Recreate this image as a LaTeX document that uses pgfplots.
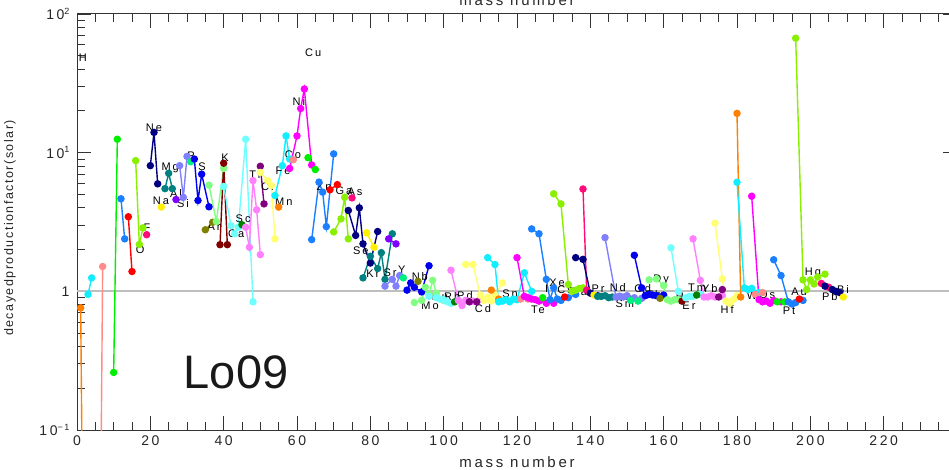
\documentclass[border=0pt]{standalone}
\usepackage{pgfplots}
\pgfplotsset{compat=1.18}
\usepackage{fontspec}
\setmainfont{Liberation Sans}
\newfontfamily\hf[LetterSpace=18]{Liberation Sans}
\newfontfamily\hfy[LetterSpace=12]{Liberation Sans}
\definecolor{cA}{HTML}{FF8000}
\definecolor{cB}{HTML}{10EEFF}
\definecolor{cC}{HTML}{FF8A8A}
\definecolor{cD}{HTML}{FF00FF}
\definecolor{cE}{HTML}{00EE00}
\definecolor{cF}{HTML}{1A80FF}
\definecolor{cG}{HTML}{FF0000}
\definecolor{cH}{HTML}{88F000}
\definecolor{cI}{HTML}{FF0A7A}
\definecolor{cJ}{HTML}{000080}
\definecolor{cK}{HTML}{FFF000}
\definecolor{cL}{HTML}{008080}
\definecolor{cM}{HTML}{8000FF}
\definecolor{cN}{HTML}{8080FF}
\definecolor{cO}{HTML}{00F080}
\definecolor{cP}{HTML}{0000F0}
\definecolor{cQ}{HTML}{808000}
\definecolor{cR}{HTML}{80FF80}
\definecolor{cS}{HTML}{800000}
\definecolor{cT}{HTML}{70FFFF}
\definecolor{cU}{HTML}{008000}
\definecolor{cV}{HTML}{FF80FF}
\definecolor{cW}{HTML}{800080}
\definecolor{cX}{HTML}{FFFF70}
\newcommand\up[1]{\raisebox{5.5pt}{\fontsize{9}{9}\selectfont #1}}
\tikzset{
 elem/.style={line width=1.4pt, mark=*, mark size=3pt, mark options={solid}},
 lab/.style={font=\hf\fontsize{11}{11}\selectfont, inner sep=0pt, text=black},
}
\begin{document}
\begin{tikzpicture}
\useasboundingbox (-77pt,-40pt) rectangle (872pt,430pt);
\begin{axis}[
 name=ax,
 at={(0,0)}, anchor=south west,
 width=880pt, height=416pt, scale only axis,
 xmin=0, xmax=240, ymode=log, ymin=0.1, ymax=100,
 xtick={0,20,...,240},
 xticklabels={0,20,40,60,80,100,120,140,160,180,200,220,{}},
 minor x tick num=3,
 ytick={0.1,1,10,100},
 yticklabels={10\up{−1},1,10\up{1},10\up{2}},
 /pgf/number format/assume math mode=true,
 ticklabel style={font=\hf\fontsize{14}{14}\selectfont, text=black!85},
 xticklabel style={yshift=-2pt},
 yticklabel style={xshift=-4pt},
 major tick length=14pt, minor tick length=8pt,
 axis line style={line width=1pt, black!80},
 every tick/.append style={black!80, line width=0.9pt},
 clip=true,
]
\addplot[no marks, color=black!25, line width=2pt] coordinates {(0,1)(240,1)};
% H .. Ar
\addplot[elem, cA] coordinates {(1,0.76)(2,0.001)};
\addplot[elem, cB] coordinates {(3,0.95)(4,1.25)};
\addplot[elem, cC] coordinates {(6,0.001)(7,1.51)};
\addplot[elem, cE] coordinates {(10,0.26)(11,12.5)};
\addplot[elem, cF] coordinates {(12,4.65)(13,2.39)};
\addplot[elem, cG] coordinates {(14,3.45)(15,1.39)};
\addplot[elem, cH] coordinates {(16,8.76)(17,2.18)(18,2.87)};
\addplot[elem, cI] coordinates {(19,2.56)};
\addplot[elem, cJ] coordinates {(20,8.06)(21,14.0)(22,5.96)};
\addplot[elem, cK] coordinates {(23,4.05)};
\addplot[elem, cL] coordinates {(24,5.5)(25,7.1)(26,5.5)};
\addplot[elem, cM] coordinates {(27,4.59)};
\addplot[elem, cN] coordinates {(28,8.06)(29,4.76)(30,9.4)};
\addplot[elem, cO] coordinates {(31,8.6)};
\addplot[elem, cP] coordinates {(32,9.0)(33,4.52)(34,7.0)(36,4.07)};
\addplot[elem, cQ] coordinates {(35,2.78)(37,3.15)};
\addplot[elem, cR] coordinates {(36,5.83)(38,3.19)(40,7.7)};
% K .. Zn
\addplot[elem, cS] coordinates {(39,2.17)(40,8.4)(41,2.17)};
\addplot[elem, cT] coordinates {(40,5.7)(42,2.98)(43,2.6)(44,2.9)(46,12.5)(48,0.84)};
\addplot[elem, cU] coordinates {(45,3.02)};
\addplot[elem, cV] coordinates {(46,2.9)(47,2.08)(48,6.29)(49,3.87)(50,1.84)};
\addplot[elem, cW] coordinates {(50,7.98)(51,4.27)};
\addplot[elem, cX] coordinates {(50,7.2)(52,6.29)(53,5.79)(54,2.39)};
\addplot[elem, cA] coordinates {(55,4.05)};
\addplot[elem, cB] coordinates {(54,4.91)(56,8.06)(57,13.2)(58,9.0)};
\addplot[elem, cC] coordinates {(59,8.9)};
\addplot[elem, cD] coordinates {(58,7.7)(60,13.2)(61,20.8)(62,28.8)(64,8.15)};
\addplot[elem, cE] coordinates {(63,9.2)(65,7.56)};
\addplot[elem, cF] coordinates {(64,2.36)(66,6.13)(67,5.19)(68,2.93)(70,9.8)};
\addplot[elem, cG] coordinates {(69,5.4)(71,5.88)};
\addplot[elem, cH] coordinates {(70,2.68)(72,3.33)(73,4.76)(74,2.39)};
\addplot[elem, cI] coordinates {(75,4.72)};
\addplot[elem, cJ] coordinates {(74,3.83)(76,2.53)(77,4.0)(78,2.2)(80,1.6)(82,2.7)};
\addplot[elem, cK] coordinates {(79,2.64)(81,2.08)};
\addplot[elem, cL] coordinates {(78,1.25)(80,1.79)(82,1.46)(83,1.9)(84,1.22)(86,2.6)};
\addplot[elem, cM] coordinates {(85,2.39)(87,2.2)};
\addplot[elem, cN] coordinates {(84,1.09)(86,1.22)(87,1.09)(88,1.30)};
\addplot[elem, cO] coordinates {(89,1.25)};
\addplot[elem, cP] coordinates {(90,1.02)(91,1.15)(92,1.07)(94,0.99)(96,1.53)};
\addplot[elem, cQ] coordinates {(93,1.18)};
\addplot[elem, cR] coordinates {(92,0.83)(94,0.86)(95,1.07)(96,0.95)(97,1.2)(98,0.97)(100,0.86)};
\addplot[elem, cT] coordinates {(96,0.92)(98,0.9)(99,0.88)(100,0.87)(101,0.84)(102,0.82)(104,0.86)};
\addplot[elem, cU] coordinates {(103,0.84)};
\addplot[elem, cV] coordinates {(102,1.42)(104,0.86)(105,0.79)(106,0.86)(108,0.85)(110,0.88)};
\addplot[elem, cW] coordinates {(107,0.84)(109,0.84)};
\addplot[elem, cX] coordinates {(106,1.56)(108,1.56)(110,0.94)(111,0.86)(112,0.91)(113,0.85)(114,0.94)(116,1.15)};
\addplot[elem, cA] coordinates {(113,1.02)(115,0.88)};
\addplot[elem, cB] coordinates {(112,1.75)(114,1.56)(115,0.84)(116,0.85)(117,0.87)(118,0.84)(119,0.88)(120,0.87)(122,1.36)(124,1.0)};
\addplot[elem, cC] coordinates {(121,0.88)(123,0.88)};
\addplot[elem, cD] coordinates {(120,1.75)(122,0.92)(123,0.9)(124,0.88)(125,0.87)(126,0.85)(128,0.82)(130,0.82)};
\addplot[elem, cE] coordinates {(127,0.9)};
\addplot[elem, cF] coordinates {(124,2.82)(126,2.6)(128,1.22)(129,0.87)(130,1.06)(131,0.88)(132,0.86)(134,0.9)(136,0.95)};
\addplot[elem, cG] coordinates {(133,0.91)};
\addplot[elem, cH] coordinates {(130,5.05)(132,4.27)(134,1.12)(135,1.0)(136,1.02)(137,1.05)(138,1.06)};
\addplot[elem, cI] coordinates {(138,5.47)(139,1.02)};
\addplot[elem, cJ] coordinates {(136,1.75)(138,1.70)(140,0.97)(142,0.93)};
\addplot[elem, cK] coordinates {(141,0.94)};
\addplot[elem, cL] coordinates {(142,0.92)(143,0.92)(144,0.93)(145,0.9)(146,0.91)(148,0.92)(150,0.92)};
\addplot[elem, cN] coordinates {(144,2.44)(147,0.91)(148,0.92)(149,0.91)(150,0.93)(152,0.90)(154,0.89)};
\addplot[elem, cO] coordinates {(151,0.86)(153,0.85)};
\addplot[elem, cP] coordinates {(152,1.82)(154,1.06)(155,0.93)(156,0.95)(157,0.94)(158,0.93)(160,0.94)};
\addplot[elem, cQ] coordinates {(159,0.89)};
\addplot[elem, cR] coordinates {(156,1.21)(158,1.23)(160,1.10)(161,0.87)(162,0.85)(163,0.87)(164,0.87)};
\addplot[elem, cS] coordinates {(165,0.85)};
\addplot[elem, cT] coordinates {(162,2.06)(164,1.0)(166,0.9)(167,0.92)(168,0.92)(170,0.95)};
\addplot[elem, cU] coordinates {(169,0.94)};
\addplot[elem, cV] coordinates {(168,2.39)(170,1.2)(171,0.91)(172,0.91)(173,0.93)(174,0.91)(176,0.93)};
\addplot[elem, cW] coordinates {(175,0.91)(176,1.03)};
\addplot[elem, cX] coordinates {(174,3.1)(176,1.23)(177,0.85)(178,0.82)(179,0.87)(180,0.93)};
\addplot[elem, cA] coordinates {(180,19.2)(181,0.91)};
\addplot[elem, cB] coordinates {(180,6.12)(182,1.06)(183,1.03)(184,1.05)(186,0.98)};
\addplot[elem, cC] coordinates {(185,0.95)(187,0.98)};
\addplot[elem, cD] coordinates {(184,4.85)(186,0.87)(187,0.84)(188,0.85)(189,0.82)(190,0.86)(192,0.84)};
\addplot[elem, cE] coordinates {(191,0.84)(193,0.84)};
\addplot[elem, cF] coordinates {(190,1.69)(192,1.30)(194,0.84)(195,0.81)(196,0.83)(198,0.86)};
\addplot[elem, cG] coordinates {(197,0.88)};
\addplot[elem, cH] coordinates {(196,66.9)(198,1.21)(199,1.03)(200,1.21)(201,1.13)(202,1.27)(204,1.33)};
\addplot[elem, cI] coordinates {(203,1.14)(205,1.07)};
\addplot[elem, cJ] coordinates {(204,1.09)(206,1.03)(207,1.0)(208,0.98)};
\addplot[elem, cK] coordinates {(209,0.91)};
% element labels
\node[lab] at (axis cs:1.6,48.2) {H};
\node[lab] at (axis cs:64.4,52.4) {Cu};
\node[lab] at (axis cs:21.0,15.1) {Ne};
\node[lab] at (axis cs:25.4,7.8) {Mg};
\node[lab] at (axis cs:22.9,4.52) {Na};
\node[lab] at (axis cs:27.0,5.07) {Al};
\node[lab] at (axis cs:28.9,4.30) {Si};
\node[lab] at (axis cs:31.1,9.51) {P};
\node[lab] at (axis cs:34.1,7.93) {S};
\node[lab] at (axis cs:40.4,9.2) {K};
\node[lab] at (axis cs:37.4,2.94) {Ar};
\node[lab] at (axis cs:45.3,3.35) {Sc};
\node[lab] at (axis cs:43.4,2.61) {Ca};
\node[lab] at (axis cs:48.5,6.95) {Ti};
\node[lab] at (axis cs:52.1,5.69) {Cr};
\node[lab] at (axis cs:56.4,4.44) {Mn};
\node[lab] at (axis cs:56.2,7.42) {Fe};
\node[lab] at (axis cs:58.9,9.68) {Co};
\node[lab] at (axis cs:60.5,23.3) {Ni};
\node[lab] at (axis cs:17.2,2.0) {O};
\node[lab] at (axis cs:19.1,2.89) {F};
\node[lab] at (axis cs:67.4,5.69) {Zn};
\node[lab] at (axis cs:72.8,5.33) {Ga};
\node[lab] at (axis cs:75.8,5.24) {As};
\node[lab] at (axis cs:77.4,1.97) {Se};
\node[lab] at (axis cs:80.7,1.35) {Kr};
\node[lab] at (axis cs:85.4,1.37) {Sr};
\node[lab] at (axis cs:88.6,1.42) {Y};
\node[lab] at (axis cs:93.5,1.28) {Nb};
\node[lab] at (axis cs:96.3,0.793) {Mo};
\node[lab] at (axis cs:99.0,0.92) {Ru};
\node[lab] at (axis cs:102.3,0.92) {Rh};
\node[lab] at (axis cs:105.8,0.936) {Pd};
\node[lab] at (axis cs:110.7,0.755) {Cd};
\node[lab] at (axis cs:118.1,0.967) {Sn};
\node[lab] at (axis cs:125.7,0.742) {Te};
\node[lab] at (axis cs:128.1,1.05) {I};
\node[lab] at (axis cs:130.9,1.16) {Xe};
\node[lab] at (axis cs:133.1,1.02) {Cs};
\node[lab] at (axis cs:137.0,1.0) {Ba};
\node[lab] at (axis cs:142.1,1.05) {Pr};
\node[lab] at (axis cs:147.5,1.07) {Nd};
\node[lab] at (axis cs:149.4,0.82) {Sm};
\node[lab] at (axis cs:154.3,1.05) {Gd};
\node[lab] at (axis cs:157.3,0.95) {Tb};
\node[lab] at (axis cs:159.3,1.2) {Dy};
\node[lab] at (axis cs:165.5,0.92) {Ho};
\node[lab] at (axis cs:166.9,0.793) {Er};
\node[lab] at (axis cs:169.1,1.07) {Tm};
\node[lab] at (axis cs:172.6,1.05) {Yb};
\node[lab] at (axis cs:177.3,0.742) {Hf};
\node[lab] at (axis cs:184.1,0.936) {W};
\node[lab] at (axis cs:188.2,0.95) {Os};
\node[lab] at (axis cs:196.9,1.0) {Au};
\node[lab] at (axis cs:194.2,0.73) {Pt};
\node[lab] at (axis cs:200.7,1.37) {Hg};
\node[lab] at (axis cs:205.3,0.92) {Pb};
\node[lab] at (axis cs:208.9,1.03) {Bi};
\node[font=\fontsize{47}{47}\selectfont, text=black!90, inner sep=0pt] at (axis cs:43.4,0.261) {Lo09};
\end{axis}
% axis titles (outside the clipped axis)
\node[font=\hf\fontsize{15}{15}\selectfont, anchor=base, text=black!85] at ([yshift=-38pt]ax.south) {mass number};
\node[font=\hf\fontsize{15}{15}\selectfont, anchor=base, text=black!85] at ([yshift=8pt]ax.north) {mass number};
\node[font=\hfy\fontsize{12.5}{12.5}\selectfont, rotate=90, text=black!85] at ([xshift=-67pt,yshift=-6pt]ax.west) {decayedproductionfactor(solar)};
\end{tikzpicture}
\end{document}
